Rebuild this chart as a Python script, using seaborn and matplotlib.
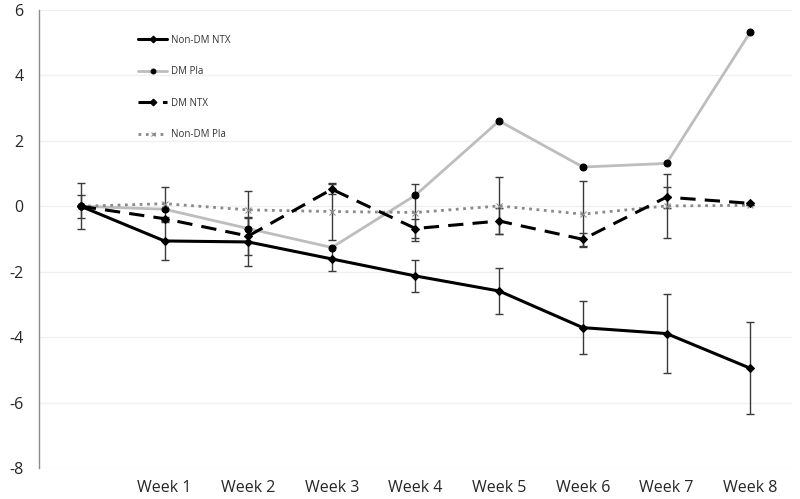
import numpy as np
import pandas as pd
import matplotlib
matplotlib.use("Agg")
import matplotlib.pyplot as plt
import seaborn as sns

# categories (first one is the unlabeled baseline)
weeks = ["", "Week 1", "Week 2", "Week 3", "Week 4", "Week 5", "Week 6", "Week 7", "Week 8"]

# series values
non_dm_ntx = [0, -1.06, -1.09, -1.61, -2.13, -2.59, -3.71, -3.89, -4.95]
dm_pla = [0, -0.09, -0.68, -1.26, 0.34, 2.61, 1.20, 1.31, 5.32]
dm_ntx = [0, -0.38, -0.91, 0.52, -0.68, -0.45, -1.01, 0.28, 0.09]
non_dm_pla = [0, 0.08, -0.11, -0.16, -0.19, 0.01, -0.24, 0.01, 0.03]

# error bar half-widths
non_dm_ntx_err = [0.35, 0.58, 0.74, 0.38, 0.48, 0.69, 0.80, 1.20, 1.40]
dm_ntx_err = [0.0, 0.05, 0.59, 0.15, 0.30, 0.41, 0.20, 0.32, 0.0]
non_dm_pla_err = [0.70, 0.52, 0.58, 0.88, 0.86, 0.87, 1.00, 0.97, 0.0]

sns.set_style("white")
plt.rcParams['font.family'] = ['Open Sans', 'DejaVu Sans']
plt.rcParams['axes.unicode_minus'] = False

fig = plt.figure(figsize=(8, 4.99), dpi=100)
ax = fig.add_axes([39 / 800, 31 / 499, 753 / 800, 458 / 499])

x = np.arange(len(weeks))

# error bars first so lines sit on top
err_kw = dict(fmt='none', ecolor='#3a3a3a', elinewidth=1.0, capsize=3, capthick=1.0, zorder=2)
ax.errorbar(x, non_dm_ntx, yerr=non_dm_ntx_err, **err_kw)
ax.errorbar(x, dm_ntx, yerr=dm_ntx_err, **err_kw)
ax.errorbar(x, non_dm_pla, yerr=non_dm_pla_err, **err_kw)

sns.lineplot(x=x, y=non_dm_ntx, ax=ax, color='black', linewidth=2.2,
             marker='D', markersize=4, markeredgecolor='black', label='Non-DM NTX', zorder=4)
sns.lineplot(x=x, y=dm_pla, ax=ax, color='#bdbdbd', linewidth=2.0,
             marker='o', markersize=5, markerfacecolor='black', markeredgecolor='black',
             label='DM Pla', zorder=3)
sns.lineplot(x=x, y=dm_ntx, ax=ax, color='black', linewidth=2.2,
             marker='D', markersize=4, markeredgecolor='black', label='DM NTX', zorder=4)
ax.lines[-1].set_dashes([5, 3])
sns.lineplot(x=x, y=non_dm_pla, ax=ax, color='#8a8a8a', linewidth=2.0, linestyle=':',
             marker='x', markersize=4, markeredgecolor='#8a8a8a', label='Non-DM Pla', zorder=3)

ax.set_xlim(-0.5, 8.5)
ax.set_ylim(-8, 6)
ax.set_yticks(np.arange(-8, 7, 2))
ax.set_xticks(x)
ax.set_xticklabels(weeks)
ax.tick_params(axis='x', length=0, labelsize=11.5, pad=9, colors='#262626')
ax.tick_params(axis='y', length=6, width=1, direction='out',
               labelsize=11.5, pad=5, colors='#8c8c8c', labelcolor='#262626')
ax.yaxis.grid(True, color='#f0f0f0', linewidth=1)
ax.set_axisbelow(True)

for side in ['top', 'right', 'bottom']:
    ax.spines[side].set_visible(False)
ax.spines['left'].set_color('#8c8c8c')
ax.spines['left'].set_linewidth(1)

ax.set_xlabel('')
ax.set_ylabel('')

leg = ax.legend(loc='upper left', bbox_to_anchor=(0.12, 0.965), frameon=False,
                fontsize=7, labelspacing=2.1, handlelength=3.0, handletextpad=0.4,
                numpoints=1, labelcolor='#333333')
for h in leg.legend_handles:
    h.set_markersize(3.5)

fig.savefig('out.png', dpi=100, facecolor='white')
